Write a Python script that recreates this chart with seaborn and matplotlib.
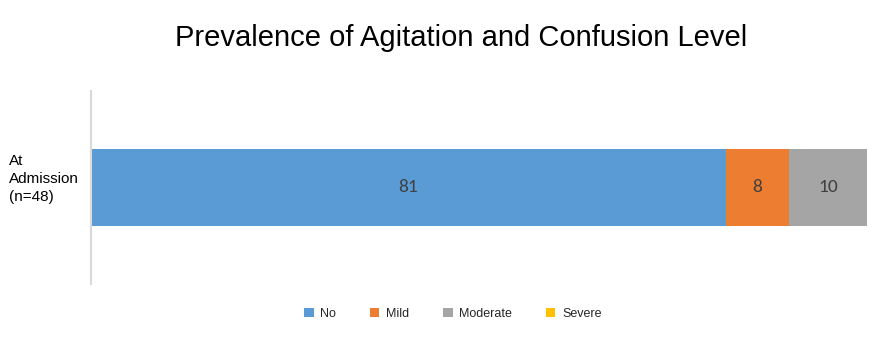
import matplotlib
matplotlib.use("Agg")
import matplotlib.pyplot as plt
from matplotlib.patches import Patch
import seaborn as sns
import pandas as pd
import numpy as np

categories = ["At\nAdmission\n(n=48)"]
levels = ["No", "Mild", "Moderate", "Severe"]
values = [81, 8, 10, 0]
labels = ["81", "8", "10", ""]
colors = ["#5B9BD5", "#ED7D31", "#A5A5A5", "#FFC000"]

sns.set_theme(style="white")
plt.rcParams["font.family"] = ["Liberation Sans", "DejaVu Sans"]

fig = plt.figure(figsize=(8.91, 3.55), dpi=100)
ax = fig.add_axes([0.1021, 0.2000, 0.8709, 0.5437])

cum = np.cumsum(values)
starts = cum - np.array(values)
# draw cumulative bars from the last level back to the first
for i in range(len(levels) - 1, -1, -1):
    df = pd.DataFrame({"cat": categories, "val": [cum[i]]})
    sns.barplot(data=df, y="cat", x="val", orient="h", color=colors[i],
                width=0.4, ax=ax, saturation=1, edgecolor="none", linewidth=0)

for i, (v, s, lab) in enumerate(zip(values, starts, labels)):
    if v > 0:
        ax.text(s + v / 2, 0, lab, ha="center", va="center", fontsize=14,
                color="#404040", family=["Carlito", "DejaVu Sans"])

ax.set_xlim(0, cum[-1])
ax.set_ylim(0.5, -0.5)
ax.set_xlabel("")
ax.set_ylabel("")
ax.set_xticks([])
ax.set_yticks([])
for sp in ["top", "right", "bottom"]:
    ax.spines[sp].set_visible(False)
ax.spines["left"].set_color("#D9D9D9")
ax.spines["left"].set_linewidth(1.5)

fig.text(9 / 891, 1 - 179 / 355, categories[0], ha="left", va="center",
         fontsize=11, color="#000000", linespacing=1.32)

fig.suptitle("Prevalence of Agitation and Confusion Level", x=461 / 891,
             y=1 - 38 / 355, va="center", fontsize=21, color="#000000")

handles = [Patch(facecolor=c, edgecolor="none") for c in colors]
fig.legend(handles, levels, loc="center", bbox_to_anchor=(453 / 891, 1 - 314 / 355),
           ncol=4, frameon=False, fontsize=9, handlelength=0.75, handleheight=0.75,
           handletextpad=0.55, columnspacing=2.7)

fig.savefig("out.png", dpi=100)
